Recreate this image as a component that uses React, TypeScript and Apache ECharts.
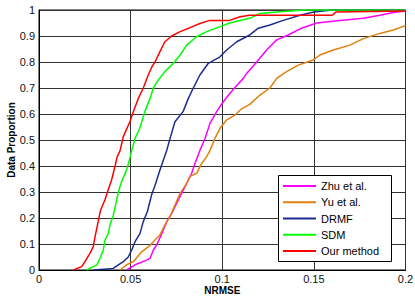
import React, { useEffect, useRef } from "react";
import * as echarts from "echarts";

const seriesNames = ["Zhu et al.", "Yu et al.", "DRMF", "SDM", "Our method"];
const seriesColors = ["#ff00ff", "#e0800f", "#1c2d8c", "#00ff00", "#ff0000"];

const zhuX = [0.0478, 0.0524, 0.0587, 0.0606, 0.0624, 0.0642, 0.067, 0.0697, 0.0724, 0.0751, 0.0778, 0.0806, 0.0833, 0.0851, 0.0878, 0.0906, 0.0933, 0.097, 0.1006, 0.1042, 0.1079, 0.1115, 0.1133, 0.1188, 0.1242, 0.1297, 0.136, 0.1433, 0.1515, 0.1642, 0.177, 0.186, 0.1933, 0.2];
const zhuY = [0, 0.02, 0.038, 0.045, 0.077, 0.096, 0.14, 0.186, 0.218, 0.256, 0.295, 0.333, 0.372, 0.41, 0.46, 0.506, 0.564, 0.61, 0.647, 0.68, 0.71, 0.737, 0.756, 0.8, 0.846, 0.885, 0.904, 0.93, 0.95, 0.96, 0.968, 0.98, 0.99, 0.996];

const yuX = [0.0442, 0.0478, 0.0515, 0.056, 0.0606, 0.0642, 0.066, 0.0687, 0.0715, 0.0742, 0.077, 0.0806, 0.0824, 0.086, 0.0888, 0.0915, 0.0933, 0.096, 0.0988, 0.1024, 0.1069, 0.1106, 0.115, 0.1206, 0.126, 0.1297, 0.1351, 0.1415, 0.1497, 0.1533, 0.1606, 0.1697, 0.177, 0.186, 0.1933, 0.2];
const yuY = [0, 0.02, 0.032, 0.07, 0.095, 0.122, 0.135, 0.173, 0.205, 0.25, 0.295, 0.333, 0.36, 0.372, 0.41, 0.436, 0.46, 0.506, 0.545, 0.577, 0.596, 0.62, 0.637, 0.673, 0.7, 0.737, 0.763, 0.788, 0.808, 0.827, 0.846, 0.865, 0.89, 0.91, 0.923, 0.94];

const drmfX = [0.0296, 0.0405, 0.0433, 0.046, 0.0487, 0.0506, 0.0524, 0.0551, 0.0569, 0.0591, 0.0615, 0.0633, 0.066, 0.0697, 0.0715, 0.0742, 0.0787, 0.0815, 0.0842, 0.0878, 0.0924, 0.0988, 0.1024, 0.1079, 0.115, 0.1197, 0.126, 0.1333, 0.1424, 0.15, 0.16, 0.2];
const drmfY = [0, 0.006, 0.02, 0.032, 0.05, 0.077, 0.109, 0.14, 0.186, 0.224, 0.29, 0.325, 0.385, 0.46, 0.506, 0.57, 0.61, 0.66, 0.7, 0.75, 0.795, 0.82, 0.846, 0.878, 0.904, 0.93, 0.942, 0.96, 0.98, 0.992, 1, 1];

const sdmX = [0.026, 0.0287, 0.0315, 0.0333, 0.0351, 0.036, 0.0378, 0.0387, 0.0405, 0.042, 0.0433, 0.0451, 0.0478, 0.0491, 0.0506, 0.0524, 0.055, 0.0578, 0.0606, 0.0624, 0.065, 0.0687, 0.0733, 0.077, 0.0806, 0.086, 0.0915, 0.0988, 0.104, 0.1097, 0.115, 0.1206, 0.133, 0.145, 0.2];
const sdmY = [0, 0.01, 0.02, 0.045, 0.077, 0.115, 0.14, 0.173, 0.21, 0.256, 0.3, 0.34, 0.385, 0.417, 0.46, 0.506, 0.545, 0.61, 0.66, 0.7, 0.73, 0.763, 0.795, 0.827, 0.865, 0.897, 0.917, 0.936, 0.95, 0.96, 0.968, 0.987, 0.994, 1, 1];

const oursX = [0.0187, 0.0233, 0.0251, 0.0278, 0.0296, 0.0306, 0.0324, 0.0336, 0.036, 0.0378, 0.0396, 0.0415, 0.0427, 0.0442, 0.046, 0.0496, 0.0515, 0.0542, 0.0569, 0.0596, 0.0615, 0.0633, 0.066, 0.0687, 0.0724, 0.077, 0.0824, 0.0878, 0.0933, 0.104, 0.1097, 0.115, 0.16, 0.162, 0.2];
const oursY = [0, 0.013, 0.032, 0.064, 0.09, 0.128, 0.19, 0.23, 0.27, 0.31, 0.346, 0.4, 0.436, 0.458, 0.513, 0.57, 0.61, 0.66, 0.7, 0.75, 0.78, 0.8, 0.84, 0.878, 0.9, 0.917, 0.932, 0.948, 0.96, 0.96, 0.974, 0.98, 0.98, 0.992, 0.996];

const xTicks = [0, 0.05, 0.1, 0.15, 0.2];

const allX = [zhuX, yuX, drmfX, sdmX, oursX];
const allY = [zhuY, yuY, drmfY, sdmY, oursY];

export default function App() {
  const ref = useRef<HTMLDivElement>(null);
  useEffect(() => {
    if (!ref.current) return;
    const chart = echarts.init(ref.current, null, { renderer: "svg" });
    const font = "'Liberation Sans', Arial, sans-serif";
    chart.setOption({
      animation: false,
      backgroundColor: "#fff",
      textStyle: { fontFamily: font },
      grid: {
        left: 39,
        top: 10,
        right: 9.5,
        bottom: 26,
        show: true,
        borderColor: "#000",
        borderWidth: 1,
        containLabel: false,
        outerBoundsMode: "none",
      },
      xAxis: {
        type: "value",
        min: xTicks[0],
        max: xTicks[xTicks.length - 1],
        interval: 0.05,
        name: "NRMSE",
        nameLocation: "middle",
        nameGap: 15,
        nameMoveOverlap: false,
        nameTextStyle: { fontFamily: font, fontWeight: "bold", fontSize: 10, color: "#000" },
        axisLine: { show: true, lineStyle: { color: "#000", width: 1 } },
        axisTick: { show: false },
        axisLabel: { fontFamily: font, fontSize: 11, color: "#111", margin: 3 },
        splitLine: { show: true, lineStyle: { color: "#333", width: 1 } },
      },
      yAxis: {
        type: "value",
        min: 0,
        max: 1,
        interval: 0.1,
        name: "Data Proportion",
        nameLocation: "middle",
        nameGap: 23,
        nameMoveOverlap: false,
        nameTextStyle: { fontFamily: font, fontWeight: "bold", fontSize: 10, color: "#000" },
        axisLine: { show: true, lineStyle: { color: "#000", width: 1 } },
        axisTick: { show: false },
        axisLabel: { fontFamily: font, fontSize: 11, color: "#111", margin: 4 },
        splitLine: { show: true, lineStyle: { color: "#333", width: 1 } },
      },
      legend: {
        orient: "vertical",
        left: 278,
        top: 175,
        padding: [5, 8, 4, 5],
        itemWidth: 33,
        itemHeight: 2,
        itemGap: 4.25,
        icon: "rect",
        z: 10,
        textStyle: { fontFamily: font, fontSize: 11, color: "#000", lineHeight: 12 },
        data: seriesNames,
      },
      graphic: [
        {
          type: "rect",
          shape: { x: 278.5, y: 175.5, width: 113, height: 86 },
          style: { fill: "#fff", stroke: "#000", lineWidth: 1 },
          z: 9,
        },
      ],
      series: seriesNames.map((name, i) => ({
        name,
        type: "line",
        data: allX[i].map((x, j) => [x, allY[i][j]]),
        showSymbol: false,
        symbol: "none",
        color: seriesColors[i],
        lineStyle: { color: seriesColors[i], width: 1.5 },
        z: 2 + i,
      })),
    });
    return () => chart.dispose();
  }, []);
  return (
    <div
      ref={ref}
      style={{ position: "fixed", left: 0, top: 0, width: 415, height: 296 }}
    />
  );
}
